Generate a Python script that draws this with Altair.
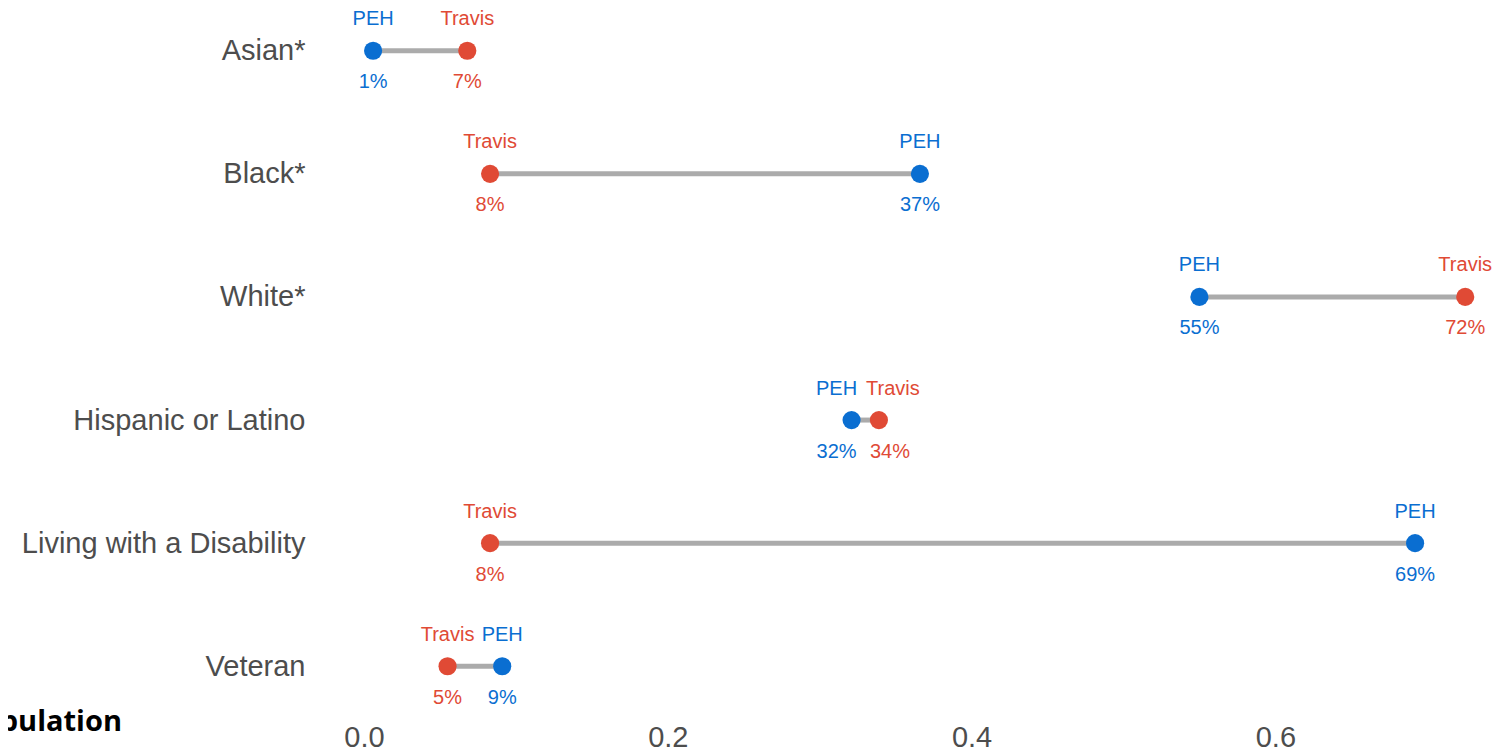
import altair as alt
import pandas as pd

categories = ["Asian*", "Black*", "White*", "Hispanic or Latino",
              "Living with a Disability", "Veteran"]
peh_values = [0.006, 0.366, 0.550, 0.321, 0.692, 0.091]
travis_values = [0.068, 0.083, 0.725, 0.339, 0.083, 0.055]
peh_labels = ["1%", "37%", "55%", "32%", "69%", "9%"]
travis_labels = ["7%", "8%", "72%", "34%", "8%", "5%"]
group_names = ["PEH", "Travis"]
group_colors = ["#0A6ED1", "#E04A35"]
x_ticks = [0.0, 0.2, 0.4, 0.6]
corner_note = ["Population"]

wide = pd.DataFrame({"category": categories, "peh": peh_values, "travis": travis_values})
long = pd.concat([
    pd.DataFrame({"category": categories, "group": group_names[0],
                  "value": peh_values, "pct": peh_labels}),
    pd.DataFrame({"category": categories, "group": group_names[1],
                  "value": travis_values, "pct": travis_labels}),
], ignore_index=True)

y_enc = alt.Y("category:N", sort=categories,
              scale=alt.Scale(type="point", padding=0.347),
              axis=alt.Axis(title=None, ticks=False, domain=False, grid=False,
                            labelFontSize=29, labelColor="#4D4D4D", labelPadding=59,
                            labelFont="Liberation Sans", labelAlign="right",
                            labelLimit=0))
x_enc = alt.X("value:Q", scale=alt.Scale(domain=[0, 0.74], nice=False, zero=False),
              axis=alt.Axis(title=None, values=x_ticks, format=".1f", ticks=False,
                            domain=False, grid=False, labelFontSize=29,
                            labelPadding=14, labelColor="#4D4D4D",
                            labelFont="Liberation Sans", labelFlush=False))
color_enc = alt.Color("group:N", scale=alt.Scale(domain=group_names, range=group_colors),
                      legend=None)

rules = alt.Chart(wide).mark_rule(color="#ABABAB", strokeWidth=5).encode(
    x=alt.X("peh:Q"), x2="travis:Q", y=y_enc)

dots = alt.Chart(long).mark_circle(size=330, opacity=1).encode(
    x=x_enc, y=y_enc, color=color_enc)

base_text = alt.Chart(long)
hisp = alt.datum.category == "Hispanic or Latino"


def text_layer(field, dy, flt, dx):
    return base_text.transform_filter(flt).mark_text(
        font="Liberation Sans", fontSize=20, baseline="middle", dy=dy, dx=dx
    ).encode(x=x_enc, y=y_enc, color=color_enc, text=field)


not_hisp = alt.datum.category != "Hispanic or Latino"
names = text_layer("group:N", -31.5, not_hisp, 0)
pcts = text_layer("pct:N", 31.5, not_hisp, 0)
h_peh = (hisp) & (alt.datum.group == "PEH")
h_tra = (hisp) & (alt.datum.group == "Travis")
names_h1 = text_layer("group:N", -31.5, h_peh, -15)
names_h2 = text_layer("group:N", -31.5, h_tra, 14)
pcts_h1 = text_layer("pct:N", 31.5, h_peh, -15)
pcts_h2 = text_layer("pct:N", 31.5, h_tra, 11)

note = alt.Chart(pd.DataFrame({"note": corner_note})).mark_text(
    align="right", baseline="alphabetic", font="Open Sans", fontWeight="bold",
    fontSize=29, color="black"
).encode(x=alt.value(-242), y=alt.value(723), text="note:N")

chart = alt.layer(rules, dots, names, pcts, names_h1, names_h2, pcts_h1, pcts_h2, note).properties(
    width=1124, height=701,
    padding={"left": 356, "top": 0, "right": 8, "bottom": 44},
    autosize=alt.AutoSizeParams(type="none"),
    background="white",
).configure_view(stroke=None)

chart.save("out.html", embed_options={"renderer": "svg", "actions": False})
